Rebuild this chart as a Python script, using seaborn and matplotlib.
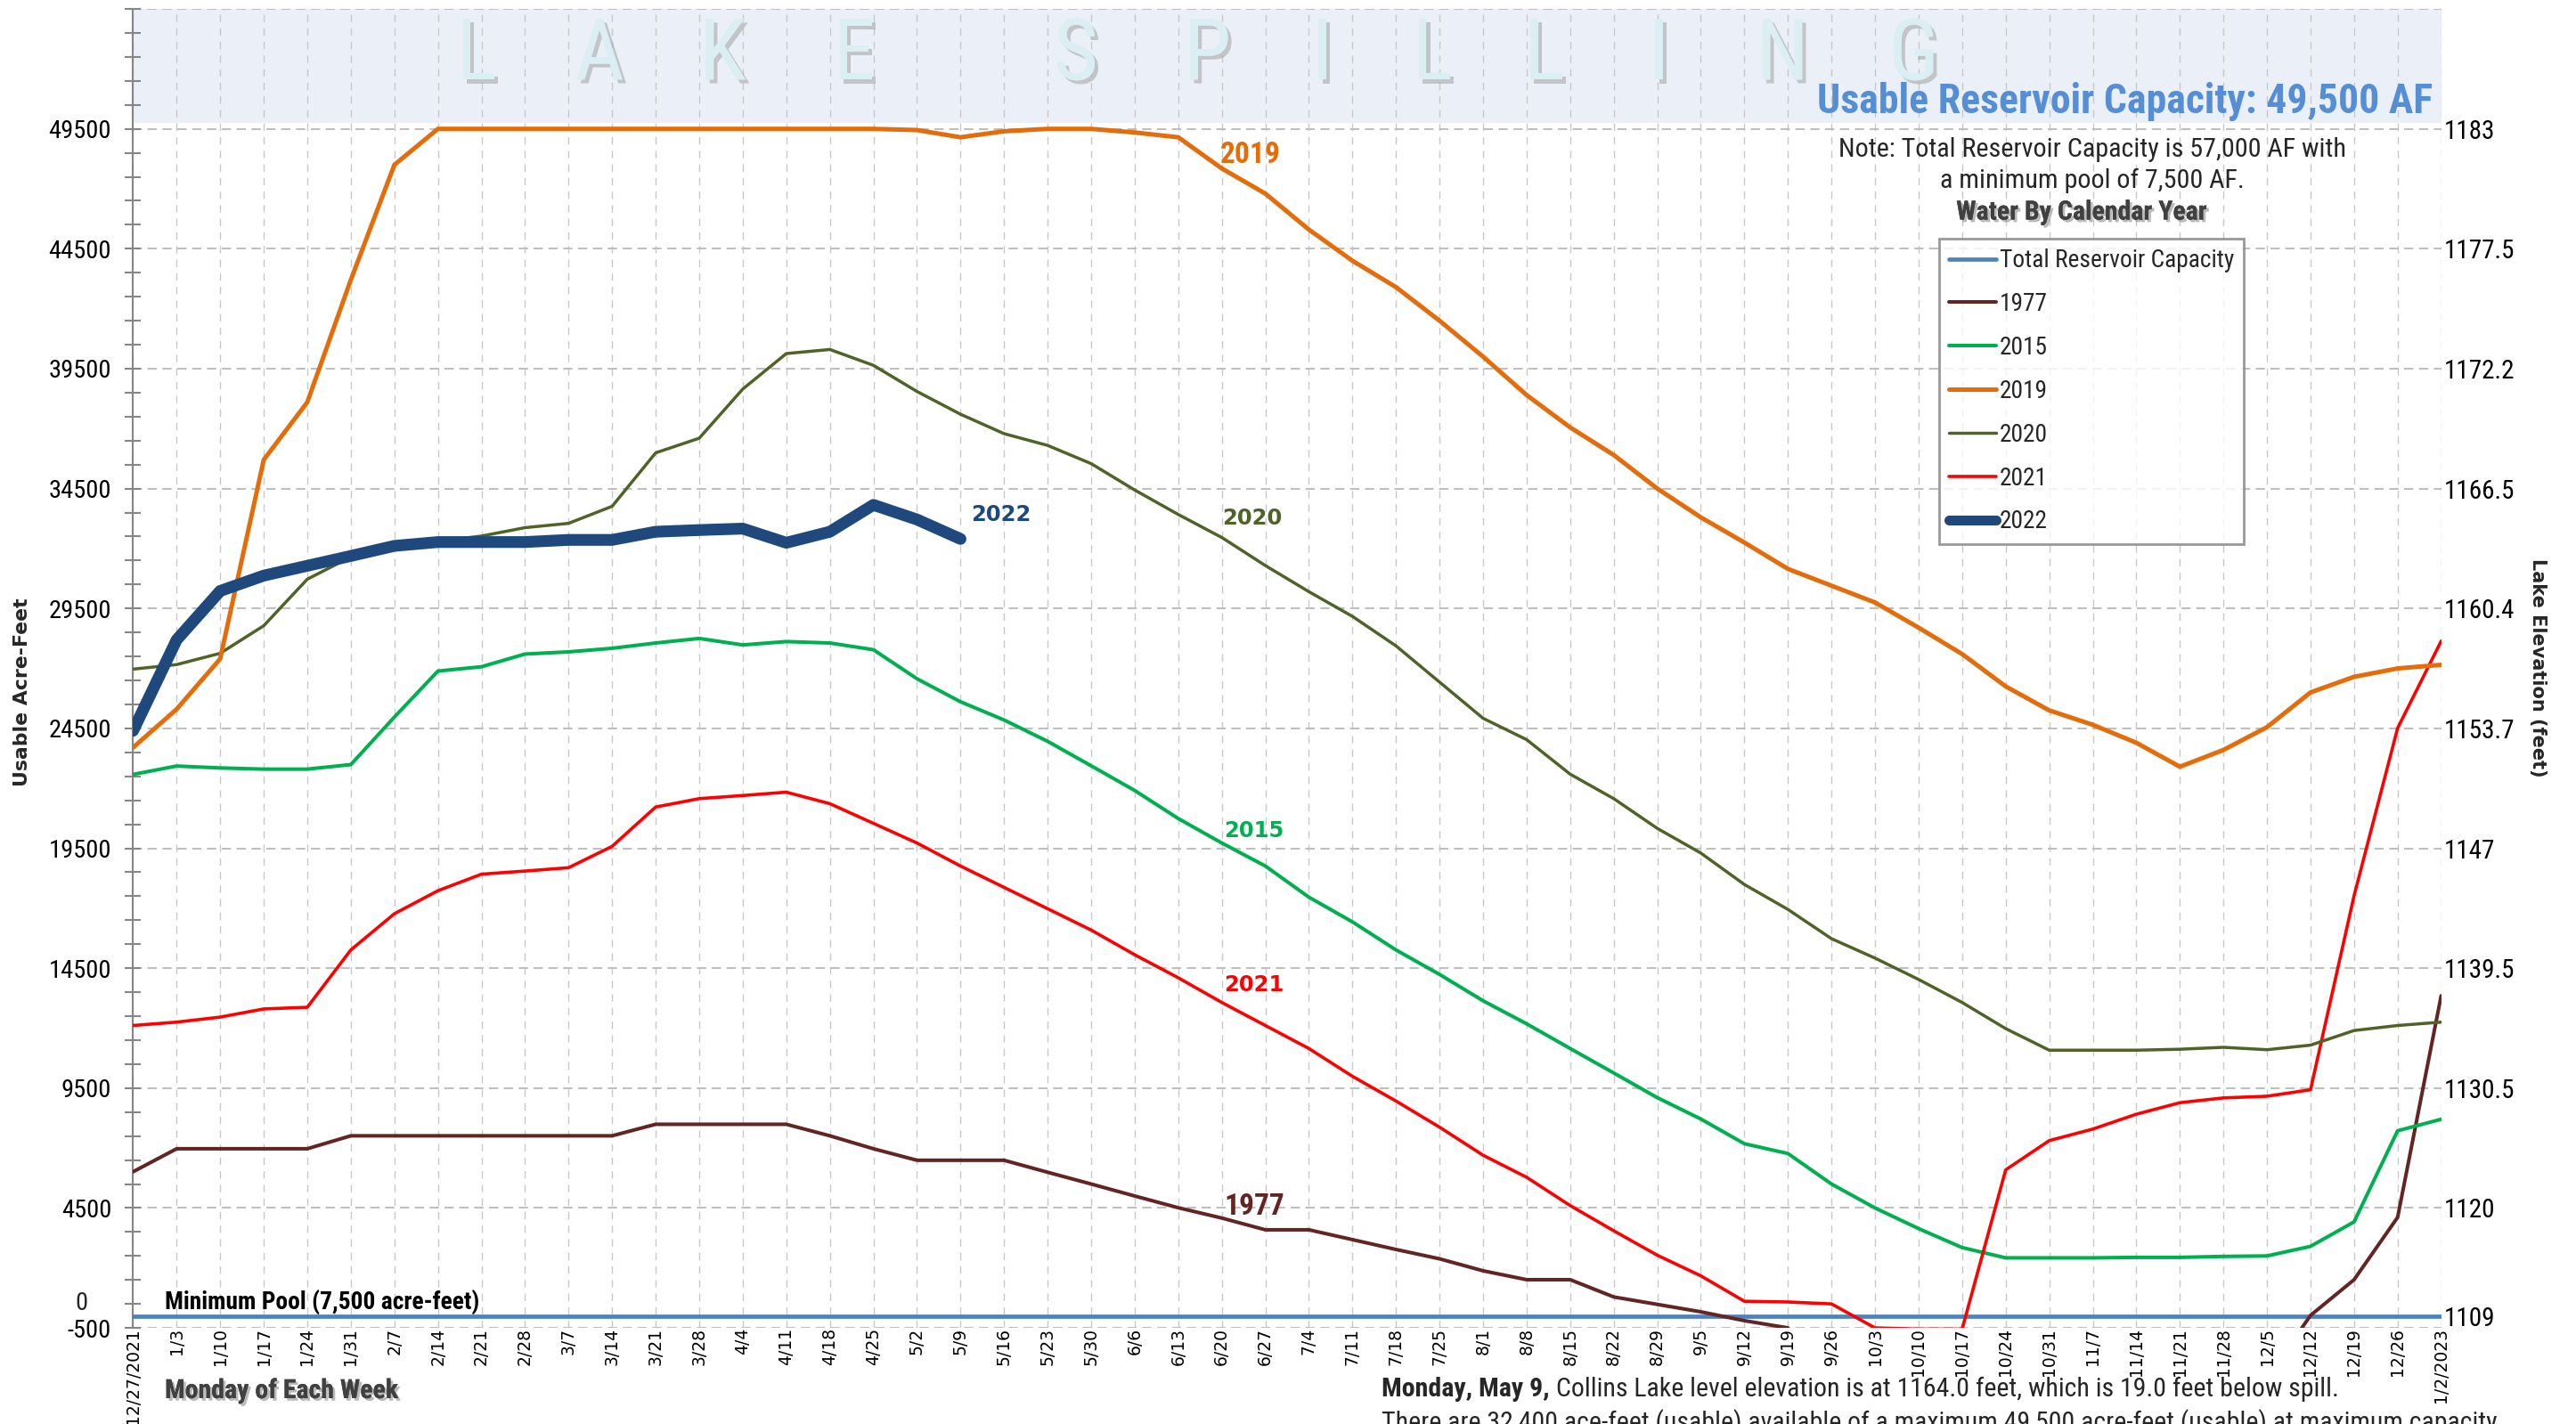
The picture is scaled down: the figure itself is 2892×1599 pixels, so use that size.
import matplotlib
matplotlib.use("Agg")
import matplotlib.pyplot as plt
import matplotlib.patheffects as pe
from matplotlib.lines import Line2D
import numpy as np
import seaborn as sns

# weeks (Monday of each week)
weeks = ['12/27/2021', '1/3', '1/10', '1/17', '1/24', '1/31', '2/7', '2/14', '2/21', '2/28',
         '3/7', '3/14', '3/21', '3/28', '4/4', '4/11', '4/18', '4/25', '5/2', '5/9',
         '5/16', '5/23', '5/30', '6/6', '6/13', '6/20', '6/27', '7/4', '7/11', '7/18',
         '7/25', '8/1', '8/8', '8/15', '8/22', '8/29', '9/5', '9/12', '9/19', '9/26',
         '10/3', '10/10', '10/17', '10/24', '10/31', '11/7', '11/14', '11/21', '11/28', '12/5',
         '12/12', '12/19', '12/26', '1/2/2023']

# usable acre-feet per year
y1977 = [6010, 6970, 6970, 6970, 6970, 7510, 7510, 7510, 7510, 7510,
         7510, 7510, 7990, 7990, 7990, 7990, 7510, 6970, 6490, 6490,
         6490, 5990, 5500, 5000, 4510, 4080, 3590, 3590, 3180, 2770,
         2380, 1880, 1510, 1510, 790, 480, 170, -200, -500, np.nan,
         np.nan, np.nan, np.nan, np.nan, np.nan, np.nan, np.nan, np.nan, np.nan, -2600,
         20, 1510, 4110, 13350]
y2015 = [22580, 22930, 22850, 22800, 22800, 22990, 24970, 26890, 27070, 27600,
         27690, 27840, 28060, 28250, 27980, 28120, 28060, 27780, 26570, 25610,
         24850, 23960, 22940, 21910, 20740, 19720, 18760, 17460, 16430, 15260,
         14240, 13140, 12180, 11150, 10130, 9100, 8210, 7180, 6770, 5500,
         4500, 3640, 2850, 2420, 2420, 2420, 2440, 2440, 2480, 2500,
         2900, 3920, 7720, 8200]
y2019 = [23700, 25300, 27400, 35700, 38100, 43200, 48000, 49500, 49500, 49500,
         49500, 49500, 49500, 49500, 49500, 49500, 49500, 49500, 49450, 49150,
         49400, 49500, 49500, 49350, 49150, 47850, 46800, 45300, 44000, 42900,
         41500, 40000, 38400, 37050, 35900, 34500, 33300, 32250, 31150, 30450,
         29750, 28700, 27600, 26250, 25250, 24650, 23900, 22900, 23600, 24550,
         26000, 26650, 27000, 27150]
y2020 = [26970, 27160, 27630, 28780, 30720, 31650, 32000, 32300, 32520, 32870,
         33050, 33760, 35990, 36600, 38650, 40130, 40300, 39640, 38550, 37600,
         36790, 36300, 35540, 34440, 33420, 32460, 31290, 30200, 29170, 27940,
         26430, 24920, 24030, 22590, 21570, 20330, 19300, 17990, 16950, 15730,
         14920, 14030, 13070, 11980, 11080, 11080, 11080, 11120, 11200, 11100,
         11290, 11900, 12110, 12250]
y2021 = [12110, 12250, 12460, 12800, 12870, 15260, 16770, 17730, 18420, 18550,
         18690, 19580, 21220, 21570, 21700, 21840, 21360, 20540, 19720, 18760,
         17870, 16980, 16090, 15060, 14100, 13070, 12110, 11150, 9990, 8960,
         7870, 6700, 5780, 4600, 3550, 2530, 1670, 610, 580, 500,
         -500, -550, -550, 6090, 7310, 7790, 8410, 8890, 9090, 9160,
         9430, 17520, 24510, 28140]
y2022 = [24400, 28190, 30230, 30870, 31280, 31690, 32110, 32270, 32270, 32270,
         32360, 32360, 32700, 32770, 32830, 32240, 32700, 33820, 33210, 32400]
total_capacity = [0] * len(weeks)  # minimum pool line (0 usable)

left_ticks = [-500, 4500, 9500, 14500, 19500, 24500, 29500, 34500, 39500, 44500, 49500, 54500]
left_labels = ['-500', '4500', '9500', '14500', '19500', '24500', '29500', '34500',
               '39500', '44500', '49500', '']
elev_ticks = [0, 4500, 9500, 14500, 19500, 24500, 29500, 34500, 39500, 44500, 49500]
elev_labels = ['1109', '1120', '1130.5', '1139.5', '1147', '1153.7', '1160.4', '1166.5',
               '1172.2', '1177.5', '1183']

C_TOTAL = '#4F81BD'
C1977 = '#632523'
C2015 = '#00B050'
C2019 = '#E46C0A'
C2020 = '#4F6228'
C2021 = '#FF0000'
C2022 = '#1F497D'

sns.set_theme(style='white')
NARROW = ['Liberation Sans Narrow', 'Roboto Condensed', 'Liberation Sans', 'DejaVu Sans']
plt.rcParams['font.family'] = NARROW

fig = plt.figure(figsize=(28.92, 15.99), dpi=100)
ax = fig.add_axes([0.05166, 0.0675, 0.8960, 0.9262])
xi = np.arange(len(weeks))

# spill band at the top
ax.axhspan(49750, 54500, color='#EBF0F8', zorder=0.2, lw=0)


def draw(x, y, color, lw, z, **kw):
    sns.lineplot(x=x, y=y, ax=ax, color=color, linewidth=lw, zorder=z,
                 legend=False, sort=False, estimator=None, **kw)


draw(xi, total_capacity, C_TOTAL, 3.4, 3)
draw(xi[:39], y1977[:39], C1977, 2.9, 4)
draw(xi[49:], y1977[49:], C1977, 2.9, 4)
draw(xi, y2015, C2015, 2.9, 4)
draw(xi, y2021, C2021, 2.6, 4)
draw(xi, y2020, C2020, 2.5, 4)
draw(xi, y2019, C2019, 3.6, 5)
draw(xi[:len(y2022)], y2022, C2022, 9.5, 6, solid_capstyle='round')

ax.set_xlim(0, len(weeks) - 1)
ax.set_ylim(-500, 54500)
ax.set_xticks(xi)
ax.set_xticklabels(weeks, rotation=90, fontsize=13.5, family='DejaVu Sans', color='black')
ax.tick_params(axis='x', length=0, pad=0)
ax.set_yticks(left_ticks)
ax.set_yticklabels(left_labels, fontsize=20.5, color='black')
ax.set_yticks(np.arange(-500, 54501, 1000), minor=True)
ax.tick_params(axis='y', which='both', direction='inout', length=13, width=1.5,
               color='#868686', left=True, pad=11)
ax.set_xlabel('')
ax.set_ylabel('')

ax.set_axisbelow(True)
ax.yaxis.grid(True, which='major', linestyle=(0, (5, 3)), color='#BFBFBF', linewidth=1.5)
ax.xaxis.grid(True, linestyle=(0, (6, 5)), color='#C8C8C8', linewidth=1.0)
for s in ['top', 'right', 'bottom']:
    ax.spines[s].set_visible(False)
ax.spines['left'].set_color('#868686')
ax.spines['left'].set_linewidth(1.5)

ax2 = ax.twinx()
ax2.set_ylim(ax.get_ylim())
ax2.set_yticks(elev_ticks)
ax2.set_yticklabels(elev_labels, fontsize=21, color='black')
ax2.tick_params(axis='y', length=0, pad=2)
ax2.grid(False)
for s in ax2.spines.values():
    s.set_visible(False)

ax.text(-0.0197, 520, '0', transform=ax.get_yaxis_transform(), ha='right', va='center',
        fontsize=20.5)

# watermark
shadow = [pe.withSimplePatchShadow(offset=(3, -3), shadow_rgbFace='#9a9a9a', alpha=0.5),
          pe.Normal()]
letters = 'LAKESPILLING'
letter_x = [0.1488, 0.2021, 0.2555, 0.3125, 0.4085, 0.4655, 0.5153, 0.5630, 0.6114,
            0.6612, 0.7146, 0.7715]
for ch, lx in zip(letters, letter_x):
    ax.text(lx, 0.964, ch, transform=ax.transAxes, ha='center', va='center',
            fontsize=69, color='#DAEEF3', path_effects=shadow, zorder=1)

ax.text(0.9965, 0.921, 'Usable Reservoir Capacity: 49,500 AF', transform=ax.transAxes,
        ha='right', va='baseline', fontsize=33, fontweight='bold', color='#558ED5', zorder=7)

fig.text(2349 / 2892, 1 - 168 / 1599, 'Note: Total Reservoir Capacity is 57,000 AF with',
         ha='center', va='center', fontsize=21.7)
fig.text(2349 / 2892, 1 - 203 / 1599, 'a minimum pool of 7,500 AF.',
         ha='center', va='center', fontsize=21.7)
shadow2 = [pe.withSimplePatchShadow(offset=(2, -2), shadow_rgbFace='#8c8c8c', alpha=0.6),
           pe.Normal()]
fig.text(2337 / 2892, 1 - 238.6 / 1599, 'Water By Calendar Year', ha='center', va='center',
         fontsize=21.5, fontweight='bold', color='#404040', path_effects=shadow2)

handles = [Line2D([], [], color=C_TOTAL, lw=3.4),
           Line2D([], [], color=C1977, lw=2.9),
           Line2D([], [], color=C2015, lw=2.9),
           Line2D([], [], color=C2019, lw=3.6),
           Line2D([], [], color=C2020, lw=2.5),
           Line2D([], [], color=C2021, lw=2.6),
           Line2D([], [], color=C2022, lw=8, solid_capstyle='round')]
names = ['Total Reservoir Capacity', '1977', '2015', '2019', '2020', '2021', '2022']
leg = ax.legend(handles, names, loc='upper left', bbox_to_anchor=(2176.6 / 2892, 1 - 267.6 / 1599),
                bbox_transform=fig.transFigure, borderaxespad=0, fontsize=19.7,
                handlelength=1.95, handletextpad=0.12, labelspacing=0.8, borderpad=0.42,
                fancybox=False, frameon=True)
leg.get_frame().set_edgecolor('#808080')
leg.get_frame().set_linewidth(2)
leg.set_zorder(8)

# inline series labels
ax.text(25.66, 48418, '2019', ha='center', va='center', fontsize=24, fontweight='bold', color=C2019)
ax.text(25.74, 4555, '1977', ha='center', va='center', fontsize=24, fontweight='bold', color=C1977)
for lx, ly, t, c in [(19.92, 33394, '2022', C2022), (25.7, 33257, '2020', C2020),
                     (25.74, 20241, '2015', C2015), (25.74, 13802, '2021', C2021)]:
    ax.text(lx, ly, t, ha='center', va='center', fontsize=17.5, fontweight='bold', color=c,
            family='DejaVu Sans')

ax.text(0.72, 272, 'Minimum Pool (7,500 acre-feet)', ha='left', va='baseline', fontsize=19.8,
        fontweight='bold', color='black', zorder=7)

fig.text(185 / 2892, 1 - 1562 / 1599, 'Monday of Each Week', ha='left', va='center', fontsize=21.5,
         fontweight='bold', color='#404040', path_effects=shadow2)
fig.text(25.5 / 2892, 1 - 777.5 / 1599, 'Usable Acre-Feet', rotation=90, ha='center', va='center',
         fontsize=15.8, fontweight='bold', family='DejaVu Sans')
fig.text(2849 / 2892, 1 - 750 / 1599, 'Lake Elevation (feet)', rotation=270, ha='center',
         va='center', fontsize=15, fontweight='bold', family='DejaVu Sans')

t1 = fig.text(1551 / 2892, 1 - 1568 / 1599, 'Monday, May 9,', ha='left', va='baseline',
              fontsize=21.5, fontweight='bold')
fig.canvas.draw()
ax.annotate(' Collins Lake level elevation is at 1164.0 feet, which is 19.0 feet below spill.',
            xy=(1, 0), xycoords=t1, ha='left', va='bottom', fontsize=21.5,
            annotation_clip=False)
fig.text(1551 / 2892, 1 - 1606 / 1599,
         'There are 32,400 ace-feet (usable) available of a maximum 49,500 acre-feet (usable) at maximum capacity',
         ha='left', va='baseline', fontsize=21.5)

fig.savefig('out.png', dpi=100, facecolor='white')
